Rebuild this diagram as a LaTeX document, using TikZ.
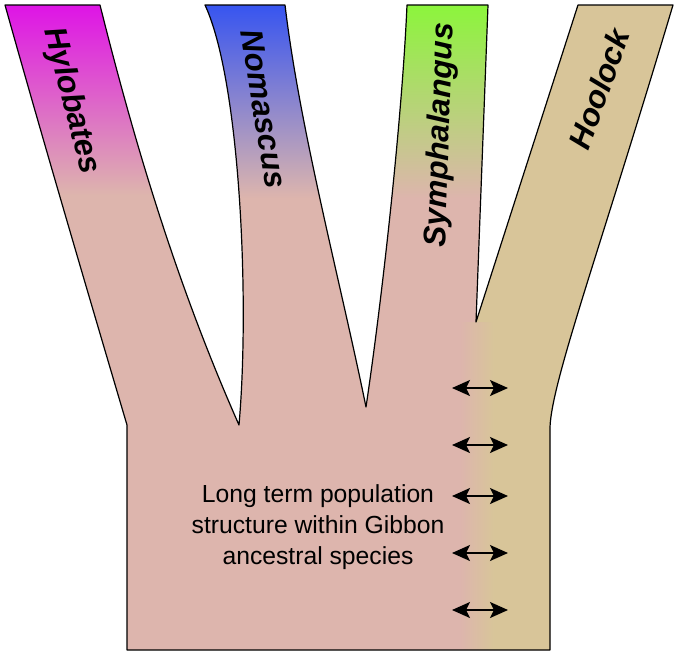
\documentclass[tikz,border=0pt]{standalone}
\usepackage{fontspec}
\setsansfont{Liberation Sans}
\usetikzlibrary{arrows.meta}

\definecolor{ancestral}{RGB}{221,181,173}
\definecolor{hoolockc}{RGB}{216,197,153}
\definecolor{hylobatesc}{RGB}{222,20,230}
\definecolor{nomascusc}{RGB}{55,85,240}
\definecolor{symphc}{RGB}{140,245,60}

\newcommand{\gibbontree}{(5,5) -- (100,5)
  .. controls (135,145) and (177,285) .. (239,425)
  .. controls (250,300) and (240,80) .. (205,5)
  -- (285,5) .. controls (300,130) and (340,280) .. (366,407)
  .. controls (382,300) and (402,120) .. (407,5)
  -- (488,5) -- (476,322) -- (578,5) -- (673,5)
  .. controls (600,250) and (552,380) .. (550,427)
  -- (550,650) -- (127,650) -- (127,425)
  .. controls (90,300) and (40,130) .. (5,5) -- cycle}

\tikzset{
  geneflow/.tip={Stealth[length=18pt,width=16pt,inset=4pt]},
}

\begin{document}
\begin{tikzpicture}[x=1pt,y=-1pt,
  genus/.style={font=\sffamily\bfseries\itshape\fontsize{31.5}{34}\selectfont, inner sep=0pt},
  note/.style={font=\sffamily\fontsize{24.7}{31.3}\selectfont, align=center, inner sep=0pt},
  flow/.style={line width=1.6pt, geneflow-geneflow}]
\useasboundingbox (0,0) rectangle (678,654);
\begin{scope}
  \clip \gibbontree;
  \fill[ancestral] (0,0) rectangle (678,654);
  \shade[top color=hylobatesc, bottom color=ancestral] (0,5) rectangle (200,195);
  \shade[top color=nomascusc, bottom color=ancestral] (200,5) rectangle (372,198);
  \shade[top color=symphc, bottom color=ancestral] (380,5) rectangle (500,198);
  \shade[left color=ancestral, right color=hoolockc] (460,322) rectangle (494,654);
  \fill[hoolockc] (476,322) -- (578,0) -- (678,0) -- (678,654) -- (494,654) -- (494,322) -- cycle;
\end{scope}
\draw[line width=1.2pt, line join=round] \gibbontree;

\node[genus, rotate=-75.5] (hylo) at (71,101) {Hylobates};
\node[genus, rotate=-81] (noma) at (264,109) {Nomascus};
\node[genus, rotate=88] (symph) at (441,135) {Symphalangus};
\node[genus, rotate=70] (hool) at (599,89) {Hoolock};

\node[note] (ancestor) at (318,527) {Long term population\\structure within Gibbon\\ancestral species};

\foreach \y [count=\i] in {388,445,496,553,610} {
  \coordinate (gl\i) at (452,\y);
  \coordinate (gr\i) at (508,\y);
  \draw[flow] (gl\i) -- (gr\i);
}
\end{tikzpicture}
\end{document}
